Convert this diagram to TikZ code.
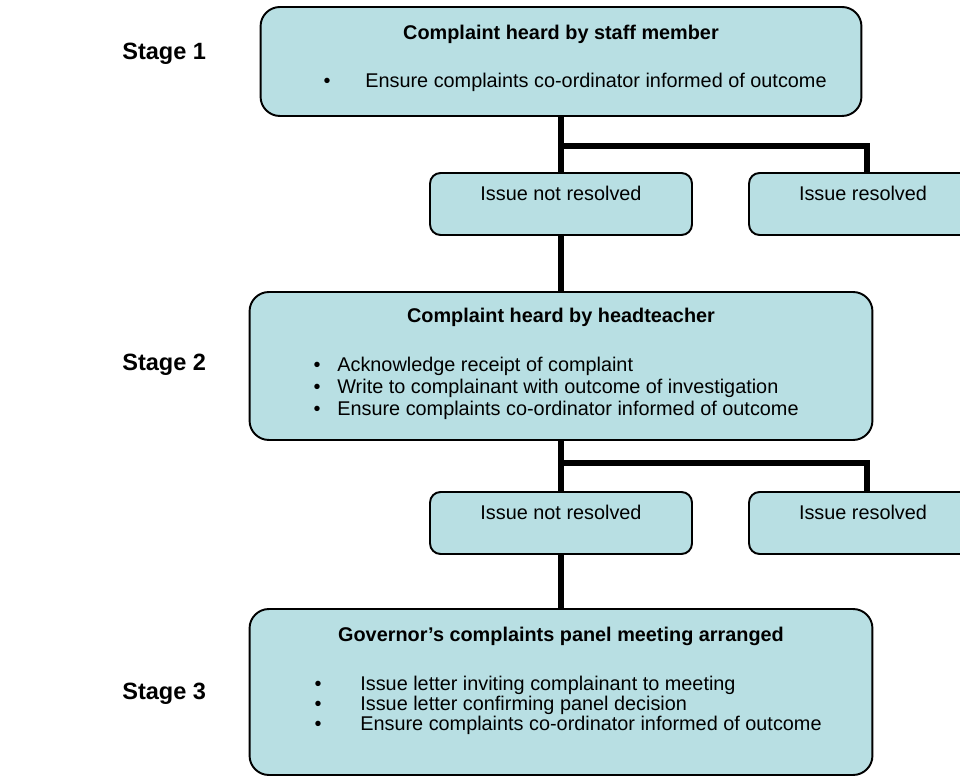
\documentclass[tikz,border=0pt]{standalone}
\usepackage{fontspec}
\setmainfont{Liberation Sans}
\usetikzlibrary{calc}

\definecolor{boxfill}{RGB}{184,223,227}

\tikzset{
  box/.style={draw, line width=1.1pt, fill=boxfill, rounded corners=11pt, inner sep=0pt},
  smallbox/.style={box, rounded corners=6pt, minimum height=1.24cm},
  link/.style={line width=2.9pt},
  txt/.style={inner sep=0pt, yshift=-1.3pt, font=\fontsize{11.3}{13}\selectfont, text height=0.75em, text depth=0.2em},
  head/.style={txt, font=\fontsize{11.3}{13}\selectfont\bfseries},
  item/.style={txt, anchor=west},
  stagelbl/.style={inner sep=0pt, anchor=west, yshift=-1.6pt, font=\fontsize{13.4}{16}\selectfont\bfseries, text height=0.75em, text depth=0.2em}
}

\begin{document}
\begin{tikzpicture}[x=0.02cm, y=-0.02cm]
  \clip (0,0) rectangle (960,776);

  % stages
  \node[stagelbl] (st1) at (122,52) {Stage 1};
  \node[stagelbl] (st2) at (122,363) {Stage 2};
  \node[stagelbl] (st3) at (122,692) {Stage 3};

  % boxes
  \node[box, minimum width=12.02cm, minimum height=2.18cm] (s1) at (561,61.5) {};
  \node[smallbox, minimum width=5.24cm] (nr1) at (561,204) {};
  \node[smallbox, minimum width=4.72cm] (r1) at (867,204) {};
  \node[box, minimum width=12.46cm, minimum height=2.96cm] (s2) at (561,366) {};
  \node[smallbox, minimum width=5.24cm] (nr2) at (561,523) {};
  \node[smallbox, minimum width=4.72cm] (r2) at (867,523) {};
  \node[box, minimum width=12.46cm, minimum height=3.32cm] (s3) at (561,692) {};

  % texts
  \node[head] (h1) at (561,32) {Complaint heard by staff member};
  \node[txt] (d1) at (327,80) {•};
  \node[item] (i1) at (365,80) {Ensure complaints co-ordinator informed of outcome};

  \node[txt] (nrt1) at (561,193) {Issue not resolved};
  \node[txt] (rt1) at (863,193) {Issue resolved};

  \node[head] (h2) at (561,315) {Complaint heard by headteacher};
  \foreach \txt [count=\i] in {Acknowledge receipt of complaint,
      Write to complainant with outcome of investigation,
      Ensure complaints co-ordinator informed of outcome} {
    \node[txt] (d2-\i) at (317,342+22*\i) {•};
    \node[item] (i2-\i) at (337,342+22*\i) {\txt};
  }

  \node[txt] (nrt2) at (561,512) {Issue not resolved};
  \node[txt] (rt2) at (863,512) {Issue resolved};

  \node[head] (h3) at (561,634) {Governor’s complaints panel meeting arranged};
  \foreach \txt [count=\i] in {Issue letter inviting complainant to meeting,
      Issue letter confirming panel decision,
      Ensure complaints co-ordinator informed of outcome} {
    \node[txt] (d3-\i) at (318,663+20*\i) {•};
    \node[item] (i3-\i) at (360,663+20*\i) {\txt};
  }

  % connectors
  \coordinate (j1) at (561,146);
  \coordinate (j2) at (561,463);
  \draw[link] (s1.south) -- (nr1.north);
  \draw[link] (j1) -| (r1.north);
  \draw[link] (nr1.south) -- (s2.north);
  \draw[link] (s2.south) -- (nr2.north);
  \draw[link] (j2) -| (r2.north);
  \draw[link] (nr2.south) -- (s3.north);
\end{tikzpicture}
\end{document}
